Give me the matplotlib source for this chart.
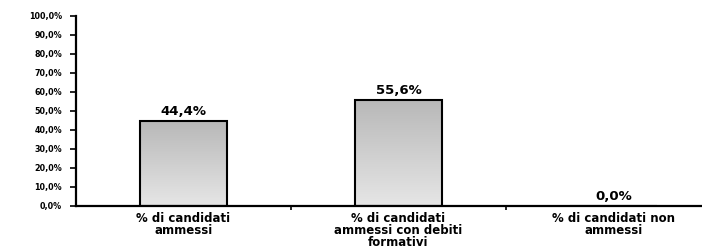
import matplotlib
matplotlib.use("Agg")
import matplotlib.pyplot as plt
import numpy as np
from matplotlib.ticker import FuncFormatter, FixedLocator
from matplotlib.colors import LinearSegmentedColormap

categories = ["% di candidati\nammessi", "% di candidati\nammessi con debiti\nformativi", "% di candidati non\nammessi"]
values = [44.4, 55.6, 0.0]
value_labels = ["44,4%", "55,6%", "0,0%"]

fig = plt.figure(figsize=(7.02, 2.49), dpi=100)
ax = fig.add_axes([76/702, 43.3/249, 645/702, 190/249])

x = np.arange(len(categories))
bars = ax.bar(x, values, width=0.405, facecolor="none", edgecolor="black", linewidth=1.5, zorder=3)

grad = np.linspace(0, 1, 256).reshape(-1, 1)
cmap = LinearSegmentedColormap.from_list("g", ["#e6e6e6", "#b8b8b8"])
for b in bars:
    if b.get_height() <= 0:
        continue
    x0, w, h = b.get_x(), b.get_width(), b.get_height()
    im = ax.imshow(grad, extent=[x0, x0 + w, 0, h], origin="lower", cmap=cmap,
                   aspect="auto", zorder=2)
    im.set_clip_path(b)

for xi, v, lab in zip(x, values, value_labels):
    ax.text(xi, v + 1.5, lab, ha="center", va="bottom", fontsize=9.5, fontweight="bold",
            family="DejaVu Sans")

ax.set_xlim(-0.5, 2.5)
ax.set_ylim(0, 100)
ax.yaxis.set_major_locator(FixedLocator(np.arange(0, 101, 10)))
ax.yaxis.set_major_formatter(FuncFormatter(lambda v, p: f"{v:.1f}%".replace(".", ",")))
ax.tick_params(axis="y", labelsize=5.8, length=4, width=1.2, pad=6)
for t in ax.get_yticklabels():
    t.set_fontweight("bold")

ax.set_xticks([0.5, 1.5])
ax.set_xticklabels([])
ax.tick_params(axis="x", length=3, width=1.2)
for xi, c in zip(x, categories):
    ax.text(xi, -3.5, c, ha="center", va="top", fontsize=8.5, fontweight="bold",
            linespacing=0.88, transform=ax.transData, clip_on=False)

for s in ["top", "right"]:
    ax.spines[s].set_visible(False)
for s in ["left", "bottom"]:
    ax.spines[s].set_linewidth(1.6)

fig.savefig("out.png", dpi=100)
